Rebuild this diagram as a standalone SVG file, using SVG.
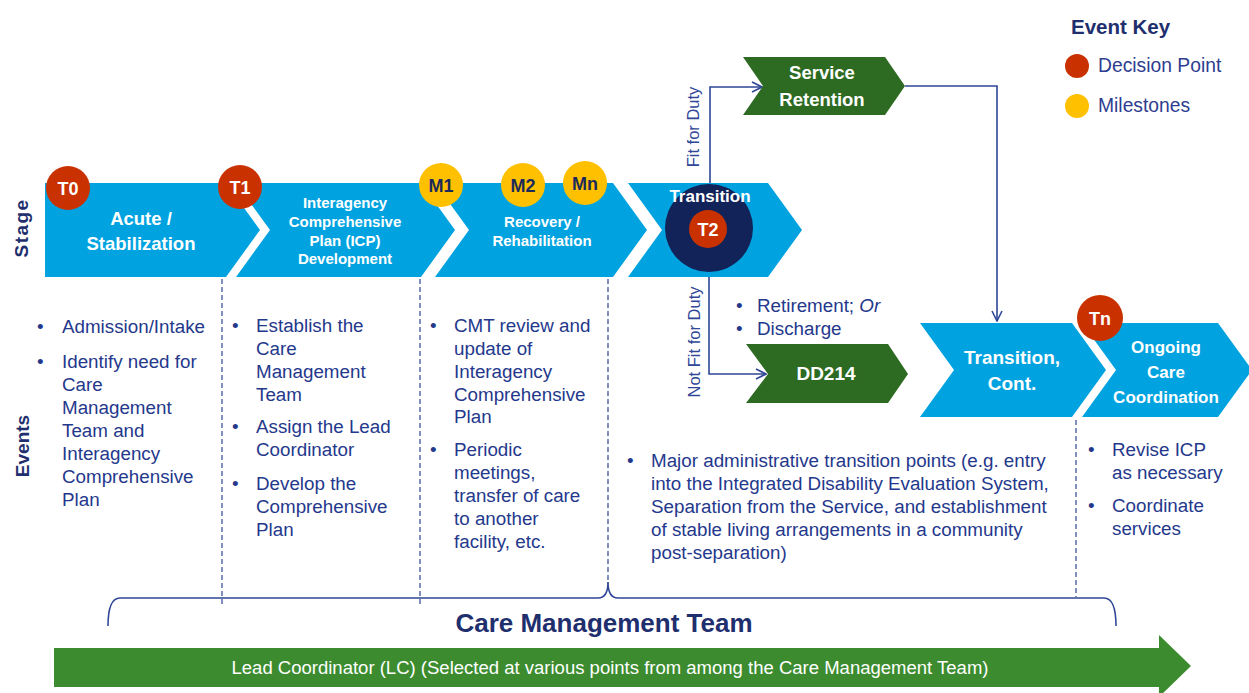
<svg xmlns="http://www.w3.org/2000/svg" width="1249" height="693" viewBox="0 0 1249 693">
<defs>
<style>
text{font-family:"Liberation Sans",Arial,sans-serif}
.chev{fill:#00A3E0}
.green{fill:#2D6A22}
.red{fill:#C93200}
.yel{fill:#FFC000}
.st{fill:#fff;font-weight:bold;text-anchor:middle}
.tw{fill:#fff;font-weight:bold;font-size:18px;text-anchor:middle}
.tm{fill:#1C2A5A;font-weight:bold;font-size:18px;text-anchor:middle}
.ev{fill:#24388C;font-size:18.8px}
.hd{fill:#1F2F6E;font-weight:bold}
.conn{fill:none;stroke:#2F4796;stroke-width:1.6}
.dash{fill:none;stroke:#2F4796;stroke-width:1.2;stroke-dasharray:5 3}
.rot{fill:#2F4796;font-size:16.5px;text-anchor:middle}
</style>
<marker id="arr" viewBox="0 0 12 12" refX="11" refY="6" markerWidth="12" markerHeight="12" markerUnits="userSpaceOnUse" orient="auto">
<path d="M1,1 L11,6 L1,11" fill="none" stroke="#2F4796" stroke-width="1.6"/>
</marker>
</defs>
<rect width="1249" height="693" fill="#fff"/>

<g id="legend">
<text x="1071" y="34" class="hd" font-size="20.5">Event Key</text>
<circle cx="1077" cy="66" r="12" class="red"/>
<text x="1098" y="72" fill="#2E3D8F" font-size="19.3">Decision Point</text>
<circle cx="1077" cy="106" r="12" class="yel"/>
<text x="1098" y="112" fill="#2E3D8F" font-size="19.3">Milestones</text>
</g>

<g id="axis-labels">
<text transform="translate(28,228) rotate(-90)" class="hd" font-size="19" text-anchor="middle" letter-spacing="1.4">Stage</text>
<text transform="translate(29,446) rotate(-90)" class="hd" font-size="19" text-anchor="middle">Events</text>
</g>

<g id="connectors">
<polyline class="conn" points="710,190 710,87 762,87" marker-end="url(#arr)"/>
<polyline class="conn" points="905,86 997,86 997,321" marker-end="url(#arr)"/>
<polyline class="conn" points="709,268 709,374 766,374" marker-end="url(#arr)"/>
<line class="dash" x1="222" y1="279" x2="222" y2="604"/>
<line class="dash" x1="420" y1="279" x2="420" y2="604"/>
<line class="dash" x1="608" y1="279" x2="608" y2="584"/>
<line class="dash" x1="1076" y1="420" x2="1076" y2="597"/>
<path class="conn" d="M108,626 Q108,598 120,598 L598,598 Q608,598 608,582 Q608,598 618,598 L1104,598 Q1116,598 1116,626"/>
</g>

<g id="stage-acute">
<path class="chev" d="M45,183 L226,183 L260,230 L226,277 L45,277 Z"/>
<text class="st" font-size="18.5" x="141" y="225">Acute /</text>
<text class="st" font-size="18.5" x="141" y="250">Stabilization</text>
<circle cx="68" cy="188" r="22" class="red"/>
<text class="tw" x="68" y="194.5">T0</text>
</g>

<g id="stage-icp">
<path class="chev" d="M236,183 L421,183 L455,230 L421,277 L236,277 L270,230 Z"/>
<text class="st" font-size="15" x="345" y="208">Interagency</text>
<text class="st" font-size="15" x="345" y="227">Comprehensive</text>
<text class="st" font-size="15" x="345" y="245.5">Plan (ICP)</text>
<text class="st" font-size="15" x="345" y="264">Development</text>
<circle cx="240" cy="187" r="22" class="red"/>
<text class="tw" x="240" y="193.5">T1</text>
</g>

<g id="stage-recovery">
<path class="chev" d="M435,183 L613,183 L647,230 L613,277 L435,277 L469,230 Z"/>
<text class="st" font-size="15" x="542" y="227">Recovery /</text>
<text class="st" font-size="15" x="542" y="246">Rehabilitation</text>
<circle cx="441" cy="185" r="22" class="yel"/>
<text class="tm" x="441" y="191.5">M1</text>
<circle cx="523" cy="185" r="22" class="yel"/>
<text class="tm" x="523" y="191.5">M2</text>
<circle cx="585" cy="183" r="22" class="yel"/>
<text class="tm" x="585" y="189.5">Mn</text>
</g>

<g id="stage-transition">
<path class="chev" d="M628,183 L768,183 L802,230 L768,277 L628,277 L662,230 Z"/>
<circle cx="709" cy="228" r="44" fill="#12235A"/>
<text class="st" font-size="17" x="710" y="202">Transition</text>
<circle cx="708" cy="229" r="19" class="red"/>
<text class="tw" x="708" y="235.5">T2</text>
</g>

<g id="service-retention">
<path class="green" d="M743,57 L885,57 L905,86 L885,115 L743,115 L763,86 Z"/>
<text class="st" font-size="18.5" x="822" y="79">Service</text>
<text class="st" font-size="18.5" x="822" y="106">Retention</text>
</g>

<g id="dd214">
<path class="green" d="M746,344 L888,344 L908,374 L888,403 L746,403 L768,374 Z"/>
<text class="st" font-size="19" x="826" y="380">DD214</text>
</g>

<g id="transition-cont">
<path class="chev" d="M920,323 L1072,323 L1106,370 L1072,417 L920,417 L954,370 Z"/>
<text class="st" font-size="19" x="1012" y="364">Transition,</text>
<text class="st" font-size="19" x="1012" y="390">Cont.</text>
</g>

<g id="ongoing">
<path class="chev" d="M1082,323 L1218,323 L1252,370 L1218,417 L1082,417 L1116,370 Z"/>
<text class="st" font-size="17" x="1166" y="353">Ongoing</text>
<text class="st" font-size="17" x="1166" y="378">Care</text>
<text class="st" font-size="17" x="1166" y="403">Coordination</text>
<circle cx="1100" cy="318" r="23" class="red"/>
<text class="tw" x="1100" y="324.5">Tn</text>
</g>

<g id="duty-labels">
<text class="rot" transform="translate(699,127) rotate(-90)">Fit for Duty</text>
<text class="rot" transform="translate(700,342) rotate(-90)">Not Fit for Duty</text>
<text class="ev" x="736" y="312">•</text>
<text class="ev" x="757" y="312">Retirement; <tspan font-style="italic">Or</tspan></text>
<text class="ev" x="736" y="335">•</text>
<text class="ev" x="757" y="335">Discharge</text>
</g>

<g id="events-acute">
<text class="ev" x="37" y="333">•</text>
<text class="ev" x="62" y="333">Admission/Intake</text>
<text class="ev" x="37" y="368">•</text>
<text class="ev" x="62" y="368">Identify need for</text>
<text class="ev" x="62" y="391">Care</text>
<text class="ev" x="62" y="414">Management</text>
<text class="ev" x="62" y="437">Team and</text>
<text class="ev" x="62" y="460">Interagency</text>
<text class="ev" x="62" y="483">Comprehensive</text>
<text class="ev" x="62" y="506">Plan</text>
</g>

<g id="events-icp">
<text class="ev" x="232" y="332">•</text>
<text class="ev" x="256" y="332">Establish the</text>
<text class="ev" x="256" y="355">Care</text>
<text class="ev" x="256" y="378">Management</text>
<text class="ev" x="256" y="401">Team</text>
<text class="ev" x="232" y="433">•</text>
<text class="ev" x="256" y="433">Assign the Lead</text>
<text class="ev" x="256" y="456">Coordinator</text>
<text class="ev" x="232" y="490">•</text>
<text class="ev" x="256" y="490">Develop the</text>
<text class="ev" x="256" y="513">Comprehensive</text>
<text class="ev" x="256" y="536">Plan</text>
</g>

<g id="events-recovery">
<text class="ev" x="430" y="332">•</text>
<text class="ev" x="454" y="332">CMT review and</text>
<text class="ev" x="454" y="355">update of</text>
<text class="ev" x="454" y="378">Interagency</text>
<text class="ev" x="454" y="401">Comprehensive</text>
<text class="ev" x="454" y="423">Plan</text>
<text class="ev" x="430" y="456">•</text>
<text class="ev" x="454" y="456">Periodic</text>
<text class="ev" x="454" y="479">meetings,</text>
<text class="ev" x="454" y="502">transfer of care</text>
<text class="ev" x="454" y="525">to another</text>
<text class="ev" x="454" y="548">facility, etc.</text>
</g>

<g id="events-transition">
<text class="ev" x="627" y="467">•</text>
<text class="ev" x="651" y="467">Major administrative transition points (e.g. entry</text>
<text class="ev" x="651" y="490">into the Integrated Disability Evaluation System,</text>
<text class="ev" x="651" y="513">Separation from the Service, and establishment</text>
<text class="ev" x="651" y="536">of stable living arrangements in a community</text>
<text class="ev" x="651" y="559">post-separation)</text>
</g>

<g id="events-ongoing">
<text class="ev" x="1088" y="456">•</text>
<text class="ev" x="1112" y="456">Revise ICP</text>
<text class="ev" x="1112" y="479">as necessary</text>
<text class="ev" x="1088" y="512">•</text>
<text class="ev" x="1112" y="512">Coordinate</text>
<text class="ev" x="1112" y="535">services</text>
</g>

<g id="care-team">
<text x="604" y="632" class="hd" font-size="26" text-anchor="middle">Care Management Team</text>
</g>

<g id="lead-coordinator">
<path d="M54,648 L1159,648 L1159,635 L1191,666 L1159,697 L1159,687 L54,687 Z" fill="#3C8C2F"/>
<text x="610" y="674" fill="#fff" font-size="17.5" text-anchor="middle" textLength="757" lengthAdjust="spacingAndGlyphs">Lead Coordinator (LC) (Selected at various points from among the Care Management Team)</text>
</g>
</svg>
